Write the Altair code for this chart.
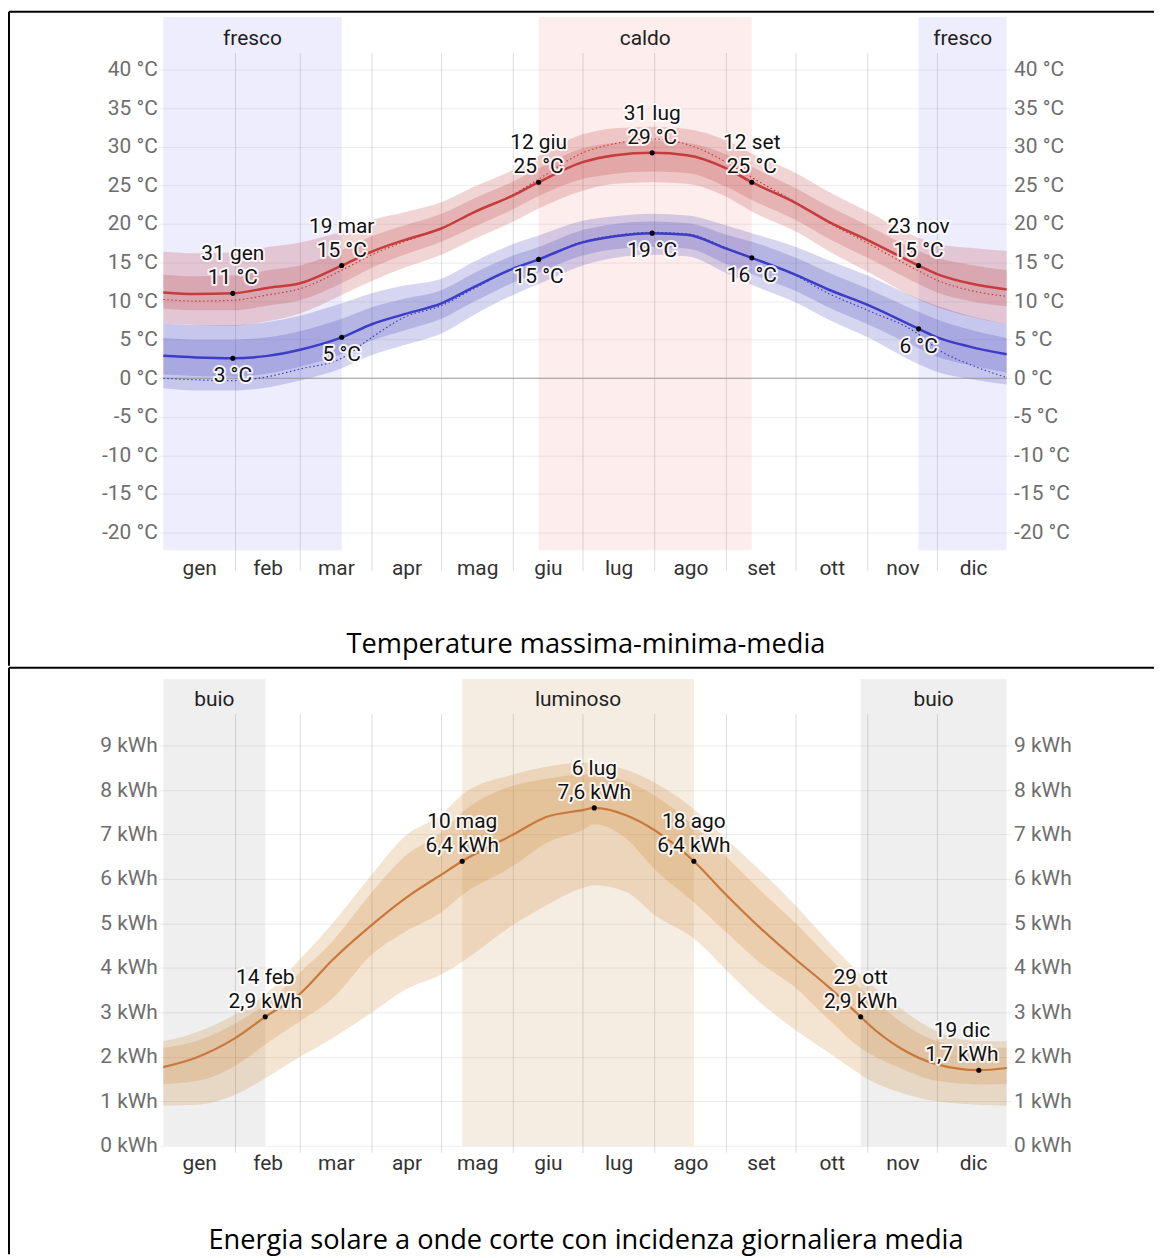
import altair as alt
import pandas as pd

# ---------------- data ----------------
MONTHS = ["gen", "feb", "mar", "apr", "mag", "giu", "lug", "ago", "set", "ott", "nov", "dic"]
MONTH_START_DAYS = [0, 31, 59, 90, 120, 151, 181, 212, 243, 273, 304, 334, 365]

# temperature (°C)
T_DATES = ["01-01", "01-15", "01-31", "02-15", "03-01", "03-19", "04-01", "04-15", "05-01",
           "05-15", "06-01", "06-12", "07-01", "07-15", "07-31", "08-15", "09-01", "09-12",
           "10-01", "10-15", "11-01", "11-23", "12-01", "12-15", "12-31"]
HI = [11.1, 10.9, 11.0, 11.7, 12.3, 14.6, 16.4, 17.9, 19.4, 21.5, 23.7, 25.4, 28.0, 28.9, 29.2,
      28.9, 27.2, 25.4, 22.7, 20.3, 17.9, 14.6, 13.5, 12.3, 11.5]
HI_P10 = [7.1, 6.9, 6.8, 7.4, 8.4, 10.8, 12.6, 14.3, 16.0, 18.0, 20.3, 22.0, 24.3, 25.2, 25.4,
          25.2, 23.5, 21.6, 19.0, 16.5, 13.8, 10.2, 9.2, 8.0, 7.0]
HI_P25 = [9.0, 8.8, 8.8, 9.4, 10.1, 12.3, 14.3, 16.0, 17.7, 19.6, 21.9, 23.6, 25.8, 26.5, 26.8,
          26.6, 24.8, 23.1, 20.5, 18.1, 15.6, 12.2, 11.1, 10.0, 9.3]
HI_P75 = [13.4, 13.2, 13.3, 14.0, 14.6, 16.6, 18.4, 19.8, 21.3, 23.3, 25.5, 27.2, 29.8, 30.5, 30.8,
          30.5, 29.0, 27.4, 24.6, 22.3, 19.8, 16.5, 15.6, 14.7, 14.0]
HI_P90 = [16.4, 16.2, 16.3, 17.0, 17.6, 19.0, 20.5, 21.5, 22.8, 24.8, 27.0, 28.8, 31.6, 32.4, 32.6,
          32.3, 30.8, 29.1, 26.6, 24.2, 21.6, 18.2, 17.4, 16.9, 16.5]
HI_FEEL = [10.2, 10.0, 10.1, 10.8, 11.6, 14.0, 16.0, 17.7, 19.4, 21.5, 23.8, 25.8, 29.2, 30.4, 31.0,
           30.3, 28.0, 26.0, 22.8, 20.2, 17.5, 13.9, 12.7, 11.4, 10.6]
LO = [2.9, 2.7, 2.6, 2.9, 3.7, 5.3, 7.0, 8.3, 9.7, 11.8, 14.2, 15.4, 17.6, 18.4, 18.8,
      18.6, 16.8, 15.6, 13.4, 11.5, 9.5, 6.4, 5.3, 4.1, 3.1]
LO_P10 = [-1.3, -1.6, -1.6, -1.2, -0.3, 1.3, 3.0, 4.3, 5.8, 8.2, 10.8, 12.2, 14.6, 15.6, 16.0,
          15.8, 13.6, 12.1, 9.8, 7.6, 5.3, 1.8, 0.8, -0.1, -0.8]
LO_P25 = [0.5, 0.3, 0.2, 0.6, 1.5, 3.1, 4.9, 6.2, 7.7, 9.9, 12.4, 13.7, 15.9, 16.7, 17.0,
          16.8, 14.8, 13.5, 11.3, 9.2, 7.0, 3.9, 2.8, 1.7, 0.7]
LO_P75 = [5.2, 5.0, 5.0, 5.3, 6.1, 7.7, 9.2, 10.3, 11.4, 13.6, 15.9, 17.0, 19.2, 20.0, 20.3,
          20.1, 18.6, 17.7, 15.6, 13.7, 11.6, 8.6, 7.6, 6.3, 5.2]
LO_P90 = [7.1, 6.9, 6.9, 7.3, 8.1, 9.7, 11.0, 12.0, 12.9, 15.1, 17.4, 18.5, 20.4, 21.0, 21.3,
          21.1, 19.8, 18.8, 17.0, 15.3, 13.3, 10.3, 9.4, 8.1, 7.0]
LO_FEEL = [0.0, -0.2, -0.3, 0.2, 1.2, 2.6, 5.3, 7.9, 9.4, 11.6, 14.2, 15.4, 17.7, 18.5, 18.9,
           18.7, 16.9, 15.6, 13.3, 11.0, 8.8, 5.7, 3.8, 1.8, 0.1]

T_BAND_LABELS = ["fresco", "caldo", "fresco"]
T_BAND_START = ["01-01", "06-12", "11-23"]
T_BAND_END = ["03-19", "09-12", "12-31"]

HI_ANN_DATES = ["01-31", "03-19", "06-12", "07-31", "09-12", "11-23"]
HI_ANN_VALUES = [11.0, 14.6, 25.4, 29.2, 25.4, 14.6]
HI_ANN_TEXT = ["31 gen\n11 °C", "19 mar\n15 °C", "12 giu\n25 °C", "31 lug\n29 °C",
               "12 set\n25 °C", "23 nov\n15 °C"]
LO_ANN_DATES = ["01-31", "03-19", "06-12", "07-31", "09-12", "11-23"]
LO_ANN_VALUES = [2.6, 5.3, 15.4, 18.8, 15.6, 6.4]
LO_ANN_TEXT = ["3 °C", "5 °C", "15 °C", "19 °C", "16 °C", "6 °C"]

# solar energy (kWh)
S_DATES = ["01-01", "01-15", "02-01", "02-14", "03-01", "03-15", "04-01", "04-15", "05-01",
           "05-10", "06-01", "06-15", "07-01", "07-06", "07-20", "08-01", "08-18", "09-01",
           "09-15", "10-01", "10-15", "10-29", "11-01", "11-15", "12-01", "12-19", "12-31"]
SOL = [1.77, 1.98, 2.42, 2.9, 3.42, 4.18, 4.97, 5.55, 6.1, 6.4, 7.0, 7.39, 7.55, 7.6, 7.43,
       7.1, 6.4, 5.64, 4.93, 4.19, 3.58, 2.9, 2.75, 2.2, 1.83, 1.7, 1.75]
SOL_P10 = [0.90, 0.92, 1.15, 1.52, 2.0, 2.42, 3.0, 3.5, 3.85, 4.14, 4.97, 5.40, 5.80, 5.86, 5.70,
           5.19, 4.66, 3.95, 3.25, 2.60, 2.10, 1.60, 1.50, 1.20, 1.00, 0.92, 0.90]
SOL_P25 = [1.39, 1.45, 1.80, 2.28, 2.80, 3.31, 4.3, 4.8, 5.25, 5.64, 6.30, 6.80, 7.10, 7.23, 6.90,
           6.22, 5.48, 4.80, 4.14, 3.55, 2.85, 2.20, 2.10, 1.75, 1.46, 1.38, 1.39]
SOL_P75 = [2.20, 2.35, 2.75, 3.18, 3.9, 4.6, 5.7, 6.5, 7.05, 7.5, 8.1, 8.25, 8.35, 8.35, 8.20,
           7.88, 7.20, 6.50, 5.78, 5.00, 4.25, 3.54, 3.40, 2.80, 2.35, 2.20, 2.20]
SOL_P90 = [2.35, 2.55, 2.95, 3.40, 4.2, 5.0, 6.1, 6.95, 7.45, 7.9, 8.35, 8.52, 8.62, 8.62, 8.45,
           8.17, 7.57, 6.90, 6.22, 5.40, 4.60, 3.85, 3.70, 3.10, 2.57, 2.35, 2.35]

S_BAND_LABELS = ["buio", "luminoso", "buio"]
S_BAND_START = ["01-01", "05-10", "10-29"]
S_BAND_END = ["02-14", "08-18", "12-31"]

S_ANN_DATES = ["02-14", "05-10", "07-06", "08-18", "10-29", "12-19"]
S_ANN_VALUES = [2.9, 6.4, 7.6, 6.4, 2.9, 1.7]
S_ANN_TEXT = ["14 feb\n2,9 kWh", "10 mag\n6,4 kWh", "6 lug\n7,6 kWh", "18 ago\n6,4 kWh",
              "29 ott\n2,9 kWh", "19 dic\n1,7 kWh"]

CAPTION_T = "Temperature massima-minima-media"
CAPTION_S = "Energia solare a onde corte con incidenza giornaliera media"

T_TICKS = list(range(-20, 45, 5))
S_TICKS = list(range(0, 10))

# ---------------- helpers ----------------
FONT = "Roboto"
CAP_FONT = "Open Sans"
FS = 21
W = 847
H_T = 500
H_S = 434
LEFT = -155

GRID_TICKS = MONTH_START_DAYS[1:-1]
MONTH_CENTERS = [(a + b) / 2 for a, b in zip(MONTH_START_DAYS[:-1], MONTH_START_DAYS[1:])]
MONTH_EXPR = f"{MONTHS}[indexof({MONTH_CENTERS}, datum.value)]"


def doy(lst):
    return [pd.Timestamp("2023-" + s).dayofyear - 1 for s in lst]


temp = pd.DataFrame({"day": doy(T_DATES), "hi": HI, "hi10": HI_P10, "hi25": HI_P25,
                     "hi75": HI_P75, "hi90": HI_P90, "hif": HI_FEEL, "lo": LO,
                     "lo10": LO_P10, "lo25": LO_P25, "lo75": LO_P75, "lo90": LO_P90,
                     "lof": LO_FEEL})
sol = pd.DataFrame({"day": doy(S_DATES), "v": SOL, "p10": SOL_P10, "p25": SOL_P25,
                    "p75": SOL_P75, "p90": SOL_P90})
tband = pd.DataFrame({"label": T_BAND_LABELS, "start": doy(T_BAND_START), "end": doy(T_BAND_END)})
sband = pd.DataFrame({"label": S_BAND_LABELS, "start": doy(S_BAND_START), "end": doy(S_BAND_END)})
hi_ann = pd.DataFrame({"day": doy(HI_ANN_DATES), "v": HI_ANN_VALUES, "txt": HI_ANN_TEXT})
lo_ann = pd.DataFrame({"day": doy(LO_ANN_DATES), "v": LO_ANN_VALUES, "txt": LO_ANN_TEXT})
s_ann = pd.DataFrame({"day": doy(S_ANN_DATES), "v": S_ANN_VALUES, "txt": S_ANN_TEXT})
dummy = pd.DataFrame({"k": [0]})

XS = alt.Scale(domain=[0, 364], nice=False, zero=False)
YT = alt.Scale(domain=[-22.3, 42.2], nice=False, zero=False)
YS = alt.Scale(domain=[0, 9.72], nice=False, zero=False)


def x_grid_axis(tick_size):
    return alt.Axis(values=GRID_TICKS, labels=False, grid=True, gridColor="black",
                    gridOpacity=0.14, tickSize=tick_size, tickColor="black", tickOpacity=0.14,
                    domain=False, title=None, orient="bottom")


X_LABEL_AXIS = alt.Axis(values=MONTH_CENTERS, labelExpr=MONTH_EXPR, ticks=False, grid=False,
                        domain=False, title=None, orient="bottom", labelFlush=False,
                        labelOverlap=False, labelBaseline="alphabetic", labelPadding=24,
                        labelFont=FONT, labelFontSize=FS, labelColor="#333333")


def y_axis(values, unit, orient, grid, pad):
    return alt.Axis(values=values, labelExpr=f"datum.value + ' {unit}'", orient=orient,
                    grid=grid, gridColor="black", gridOpacity=0.08, tickSize=5,
                    tickColor="black", tickOpacity=0.08, domain=False, title=None,
                    labelFont=FONT, labelFontSize=FS, labelColor="#6e6e6e",
                    labelPadding=pad, labelOverlap=False)


XD = alt.X("day:Q", scale=XS, axis=None)


def band_layers(df, names_colors, top_val, bottom_val, label_val):
    layers = []
    for name, col, op in names_colors:
        layers.append(
            alt.Chart(df).transform_filter(f"datum.label == '{name}'")
            .mark_rect(color=col, opacity=op)
            .encode(x=alt.X("start:Q", scale=XS, axis=None), x2="end:Q",
                    y=alt.YDatum(top_val, axis=None), y2=alt.Y2Datum(bottom_val))
        )
    layers.append(
        alt.Chart(df).transform_calculate(mid="(datum.start + datum.end) / 2")
        .mark_text(font=FONT, fontSize=FS, color="#222222", baseline="alphabetic")
        .encode(x=alt.X("mid:Q", scale=XS, axis=None), y=alt.YDatum(label_val, axis=None),
                text="label:N")
    )
    return layers


def area(df, a, b, color, scale):
    return alt.Chart(df).mark_area(color=color, opacity=0.2, interpolate="monotone").encode(
        x=XD, y=alt.Y(f"{a}:Q", scale=scale, axis=None), y2=f"{b}:Q")


def line(df, field, color, width, scale, axis=None, xaxis=None, dash=None, opacity=1):
    kw = dict(color=color, strokeWidth=width, interpolate="monotone", opacity=opacity)
    if dash:
        kw["strokeDash"] = dash
    return alt.Chart(df).mark_line(**kw).encode(
        x=alt.X("day:Q", scale=XS, axis=xaxis), y=alt.Y(f"{field}:Q", scale=scale, axis=axis))


def ann_layers(df, scale, baseline, dy, filt=None, dx=0):
    d = alt.Chart(df)
    if filt:
        d = d.transform_filter(filt)
    enc = dict(x=XD, y=alt.Y("v:Q", scale=scale, axis=None), text="txt:N")
    common = dict(font=FONT, fontSize=FS, lineBreak="\n", lineHeight=24, baseline=baseline,
                  dy=dy, dx=dx)
    halo = d.mark_text(color="white", stroke="white", strokeWidth=4, strokeJoin="round",
                       opacity=0.85, **common).encode(**enc)
    txt = d.mark_text(color="#111111", **common).encode(**enc)
    return [halo, txt]


def points(df, scale):
    return alt.Chart(df).mark_circle(size=26, color="black", opacity=1).encode(
        x=XD, y=alt.Y("v:Q", scale=scale, axis=None))


def vrule(y1, y2):
    return alt.Chart(dummy).mark_rule(color="black", strokeWidth=2).encode(
        x=alt.value(LEFT), y=alt.value(y1), y2=alt.value(y2))


def hrule(y):
    return alt.Chart(dummy).mark_rule(color="black", strokeWidth=2).encode(
        x=alt.value(LEFT), x2=alt.value(995), y=alt.value(y))


def caption(text, y):
    return alt.Chart(dummy).mark_text(font=CAP_FONT, fontSize=27.3, color="black",
                                      baseline="alphabetic", align="center").encode(
        x=alt.value(W / 2 + 1), y=alt.value(y), text=alt.value(text))


RED_A, RED_L = "#b92d2d", "#c63c3c"
BLUE_A, BLUE_L = "#3333b5", "#3c3cc6"
ORA_A, ORA_L = "#c8781e", "#c8783a"

# ---------------- temperature chart ----------------
t_layers = band_layers(tband, [("fresco", "#4b4bf0", 0.1), ("caldo", "#f04b4b", 0.1)],
                       46.8, -22.3, 43.2)
t_layers += [
    area(temp, "hi10", "hi90", RED_A, YT),
    area(temp, "hi25", "hi75", RED_A, YT),
    area(temp, "lo10", "lo90", BLUE_A, YT),
    area(temp, "lo25", "lo75", BLUE_A, YT),
    alt.Chart(dummy).mark_rule(color="#9a9a9a", strokeWidth=1).encode(y=alt.YDatum(0, axis=None)),
    line(temp, "hif", RED_L, 1.2, YT, dash=[1.5, 2.5]),
    line(temp, "lof", BLUE_L, 1.2, YT, dash=[1.5, 2.5]),
    line(temp, "hi", RED_L, 2.5, YT, axis=y_axis(T_TICKS, "°C", "left", True, 1),
         xaxis=x_grid_axis(20)),
    line(temp, "lo", BLUE_L, 2.5, YT, axis=y_axis(T_TICKS, "°C", "right", False, 2),
         xaxis=X_LABEL_AXIS),
    points(hi_ann, YT),
    points(lo_ann, YT),
]
t_layers += ann_layers(hi_ann, YT, "bottom", -29)
t_layers += ann_layers(lo_ann, YT, "top", 7)
t_layers += [hrule(-41), vrule(-41, 616), caption(CAPTION_T, 603)]

top = (alt.layer(*t_layers)
       .resolve_axis(x="independent", y="independent")
       .properties(width=W, height=H_T))

# ---------------- solar chart ----------------
s_layers = band_layers(sband, [("buio", "#000000", 0.063), ("luminoso", "#c3873e", 0.15)],
                       10.5, 0, 9.9)
s_layers += [
    area(sol, "p10", "p90", ORA_A, YS),
    area(sol, "p25", "p75", ORA_A, YS),
    line(sol, "v", ORA_L, 2.2, YS, axis=y_axis(S_TICKS, "kWh", "left", True, 1),
         xaxis=x_grid_axis(7)),
    line(sol, "v", ORA_L, 2.2, YS, axis=y_axis(S_TICKS, "kWh", "right", False, 2),
         xaxis=X_LABEL_AXIS, opacity=0),
    points(s_ann, YS),
]
s_layers += ann_layers(s_ann, YS, "bottom", -29, filt="datum.day < 350")
s_layers += ann_layers(s_ann, YS, "bottom", -29, filt="datum.day >= 350", dx=-17)
s_layers += [hrule(-46), vrule(-46, 543), caption(CAPTION_S, 538)]

bottom = (alt.layer(*s_layers)
          .resolve_axis(x="independent", y="independent")
          .properties(width=W, height=H_S))

chart = (alt.vconcat(top, bottom, spacing=0)
         .properties(padding=0)
         .configure_view(strokeWidth=0))

chart.save("out.html", embed_options={"renderer": "svg", "actions": False})
